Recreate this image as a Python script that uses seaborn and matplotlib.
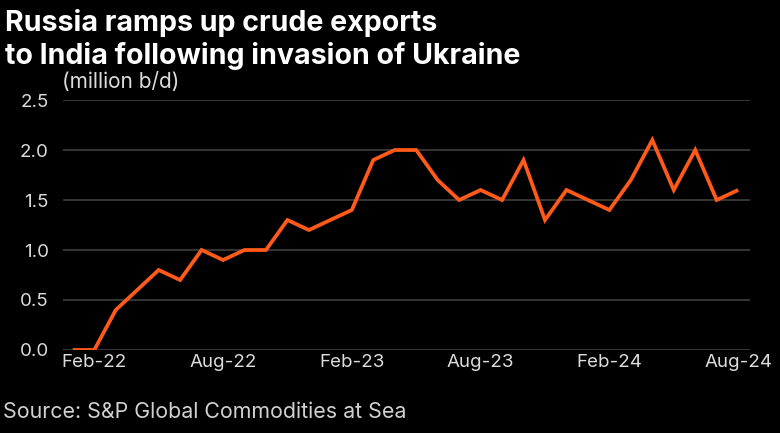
import matplotlib
matplotlib.use("Agg")
import matplotlib.pyplot as plt
import seaborn as sns
import pandas as pd

months = ["Jan-22", "Feb-22", "Mar-22", "Apr-22", "May-22", "Jun-22", "Jul-22", "Aug-22",
          "Sep-22", "Oct-22", "Nov-22", "Dec-22", "Jan-23", "Feb-23", "Mar-23", "Apr-23",
          "May-23", "Jun-23", "Jul-23", "Aug-23", "Sep-23", "Oct-23", "Nov-23", "Dec-23",
          "Jan-24", "Feb-24", "Mar-24", "Apr-24", "May-24", "Jun-24", "Jul-24", "Aug-24"]
exports = [0.0, 0.0, 0.4, 0.6, 0.8, 0.7, 1.0, 0.9,
           1.0, 1.0, 1.3, 1.2, 1.3, 1.4, 1.9, 2.0,
           2.0, 1.7, 1.5, 1.6, 1.5, 1.9, 1.3, 1.6,
           1.5, 1.4, 1.7, 2.1, 1.6, 2.0, 1.5, 1.6]
tick_labels = ["Feb-22", "Aug-22", "Feb-23", "Aug-23", "Feb-24", "Aug-24"]
y_ticks = [0.0, 0.5, 1.0, 1.5, 2.0, 2.5]

df = pd.DataFrame({"pos": range(len(months)), "month": months, "value": exports})

sns.set_theme(style="dark")
plt.rcParams["font.family"] = ["Inter", "DejaVu Sans"]

BG = "#000000"
fig = plt.figure(figsize=(7.8, 4.33), dpi=100, facecolor=BG)
ax = fig.add_axes([0.0804, 0.1917, 0.8811, 0.5773])
ax.set_facecolor(BG)

sns.lineplot(data=df, x="pos", y="value", ax=ax, color="#ff5a1a", linewidth=2.7,
             solid_joinstyle="miter", solid_capstyle="butt", zorder=3)

ax.set_xlim(-0.47, len(months) - 1 + 0.55)
ax.set_ylim(0, 2.5)
ax.set_yticks(y_ticks)
ax.set_yticklabels([f"{v:.1f}" for v in y_ticks])
ax.set_xticks([months.index(m) for m in tick_labels])
ax.set_xticklabels(tick_labels)
ax.grid(axis="y", color="#3a3a3a", linewidth=1.3)
ax.grid(axis="x", visible=False)
for s in ax.spines.values():
    s.set_visible(False)
ax.tick_params(axis="both", length=0, labelsize=13.5, colors="#dcdcdc")
ax.tick_params(axis="y", pad=10)
ax.tick_params(axis="x", pad=3)
ax.set_xlabel("")
ax.set_ylabel("")

fig.text(0.006, 0.98, "Russia ramps up crude exports\nto India following invasion of Ukraine",
         color="white", fontsize=20.6, fontweight="bold", va="top", ha="left", linespacing=1.22)
fig.text(0.08, 0.81, "(million b/d)", color="#dcdcdc", fontsize=15, va="center", ha="left")
fig.text(0.004, 0.049, "Source: S&P Global Commodities at Sea", color="#d0d0d0",
         fontsize=15.4, va="center", ha="left")

fig.savefig("out.png", dpi=100, facecolor=BG)
